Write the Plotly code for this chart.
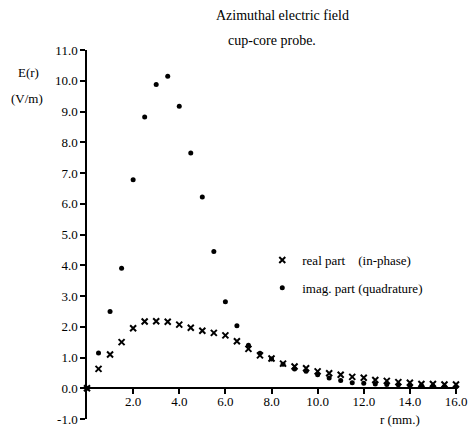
import plotly.graph_objects as go

r = [0.0, 0.5, 1.0, 1.5, 2.0, 2.5, 3.0, 3.5, 4.0, 4.5, 5.0, 5.5, 6.0, 6.5, 7.0, 7.5,
     8.0, 8.5, 9.0, 9.5, 10.0, 10.5, 11.0, 11.5, 12.0, 12.5, 13.0, 13.5, 14.0, 14.5,
     15.0, 15.5, 16.0]
real_part = [0.0, 0.63, 1.10, 1.50, 1.95, 2.17, 2.18, 2.16, 2.07, 1.97, 1.87, 1.80, 1.72,
             1.53, 1.28, 1.07, 0.97, 0.80, 0.71, 0.65, 0.55, 0.49, 0.44, 0.37, 0.34,
             0.27, 0.24, 0.20, 0.18, 0.14, 0.14, 0.12, 0.12]
imag_part = [0.0, 1.15, 2.50, 3.90, 6.78, 8.82, 9.88, 10.15, 9.17, 7.65, 6.22, 4.45, 2.81,
             2.03, 1.40, 1.14, 0.95, 0.78, 0.63, 0.55, 0.44, 0.33, 0.25, 0.18, 0.16,
             0.14, 0.12, 0.11, 0.09, 0.09, 0.07, 0.06, 0.05]
x_ticks = [2.0, 4.0, 6.0, 8.0, 10.0, 12.0, 14.0, 16.0]
y_ticks = [-1.0, 0.0, 1.0, 2.0, 3.0, 4.0, 5.0, 6.0, 7.0, 8.0, 9.0, 10.0, 11.0]

FONT = "Liberation Serif"
L, R, T, B = 86.5, 12, 50, 10
PW, PH = 468 - L - R, 429 - T - B


def px(x):
    return (x - L) / PW


def py(y):
    return 1 - (y - T) / PH


fig = go.Figure()
fig.add_trace(go.Scatter(
    x=r, y=real_part, mode="markers", name="real part\u00a0\u00a0\u00a0\u00a0(in-phase)",
    legendgroup="a", cliponaxis=False,
    marker=dict(symbol="x-thin", size=6, line=dict(width=2, color="black"), color="black")))
fig.add_trace(go.Scatter(
    x=r, y=imag_part, mode="markers", name="imag. part (quadrature)",
    legendgroup="b", cliponaxis=False,
    marker=dict(symbol="circle", size=5, color="black")))

fig.update_layout(
    width=468, height=429,
    margin=dict(l=L, r=R, t=T, b=B, autoexpand=False),
    paper_bgcolor="white", plot_bgcolor="white",
    font=dict(family=FONT, size=13, color="black"),
    showlegend=True,
    legend=dict(x=px(262), y=py(245), xanchor="left", yanchor="top",
                bgcolor="rgba(0,0,0,0)", borderwidth=0,
                tracegroupgap=8, traceorder="grouped",
                font=dict(family=FONT, size=13)),
    xaxis=dict(range=[0, 16], tickvals=x_ticks, ticktext=[f"{v:.1f}" for v in x_ticks],
               showgrid=False, zeroline=False, showline=True, linecolor="black",
               linewidth=1.5, ticks="outside", ticklen=5, tickwidth=1.5,
               tickcolor="black", anchor="free", position=1/12, automargin=False,
               ticklabelstandoff=-4,
               tickfont=dict(family=FONT, size=13)),
    yaxis=dict(range=[-1, 11], tickvals=y_ticks, ticktext=[f"{v:.1f}" for v in y_ticks],
               showgrid=False, zeroline=False, showline=True, linecolor="black",
               linewidth=1.5, ticks="outside", ticklen=5, tickwidth=1.5, automargin=False,
               tickcolor="black", tickfont=dict(family=FONT, size=13)),
    annotations=[
        dict(text="Azimuthal electric field", xref="paper", yref="paper",
             x=px(282), y=py(15), xanchor="center", yanchor="middle", showarrow=False,
             font=dict(family=FONT, size=14)),
        dict(text="cup-core probe.", xref="paper", yref="paper",
             x=px(272), y=py(40), xanchor="center", yanchor="middle", showarrow=False,
             font=dict(family=FONT, size=14)),
        dict(text="E(r)", xref="paper", yref="paper",
             x=px(28), y=py(72), xanchor="center", yanchor="middle", showarrow=False,
             font=dict(family=FONT, size=13)),
        dict(text="(V/m)", xref="paper", yref="paper",
             x=px(26), y=py(98), xanchor="center", yanchor="middle", showarrow=False,
             font=dict(family=FONT, size=13)),
        dict(text="r (mm.)", xref="paper", yref="paper",
             x=px(400), y=py(419), xanchor="center", yanchor="middle", showarrow=False,
             font=dict(family=FONT, size=13)),
    ],
)

fig.write_html("out.html")
